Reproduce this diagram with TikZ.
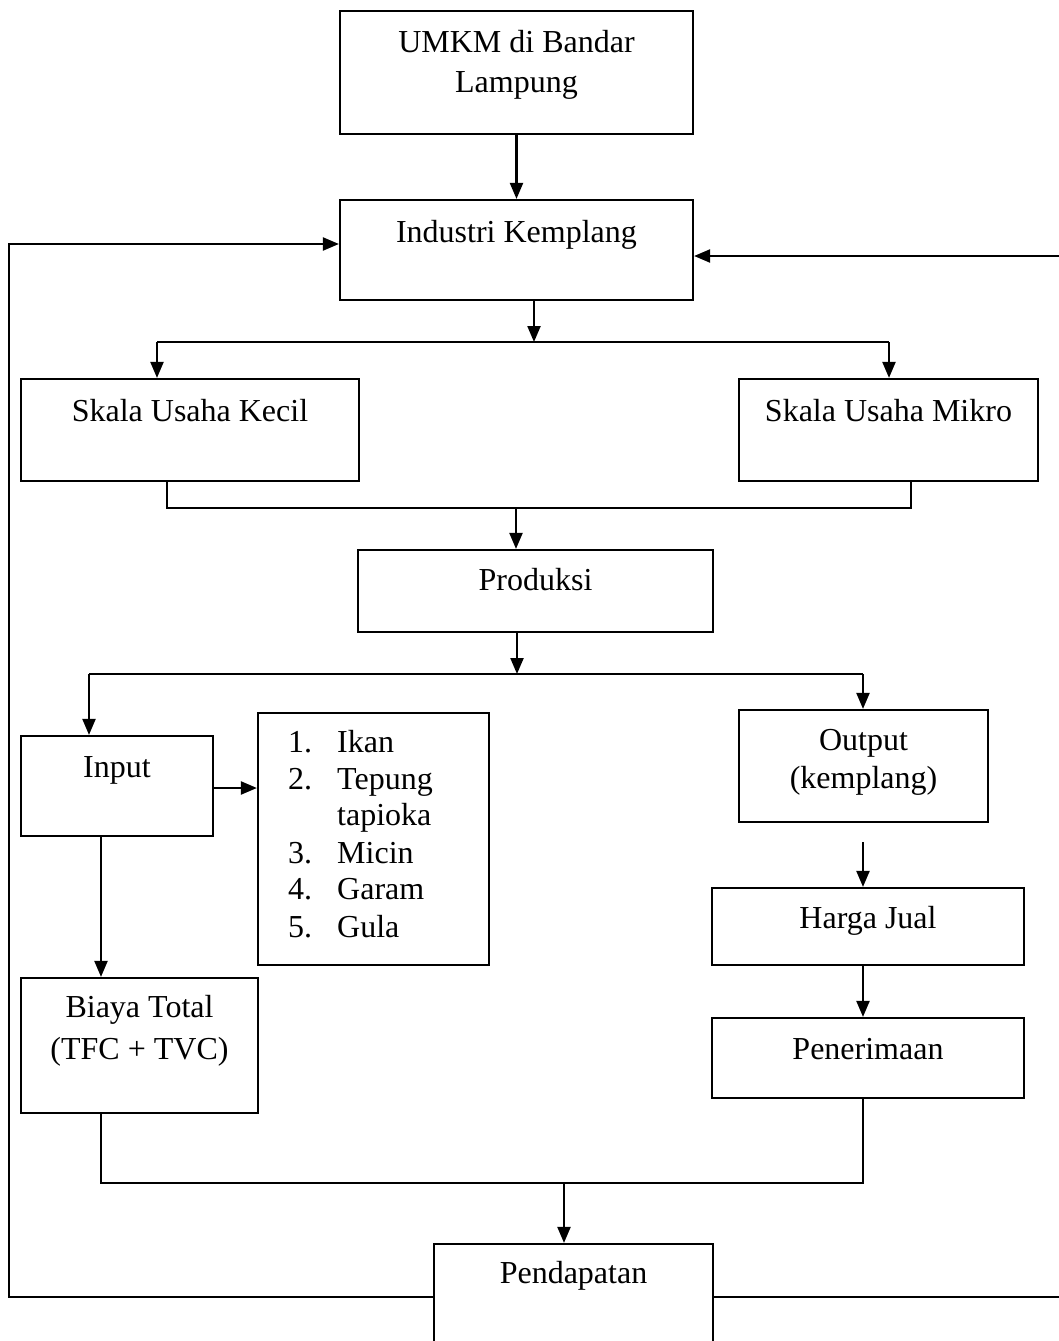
\documentclass[tikz,border=0pt]{standalone}
\usepackage{fontspec}
\setmainfont{Liberation Serif}
\usetikzlibrary{arrows.meta}
\begin{document}
\begin{tikzpicture}[x=1pt,y=-1pt,
  boxs/.style={draw, line width=2.2pt, inner sep=0pt, rectangle},
  lbl/.style={anchor=base, inner sep=0pt, font=\fontsize{32}{37}\selectfont},
  lbll/.style={anchor=base west, inner sep=0pt, font=\fontsize{32}{37}\selectfont},
  conn/.style={line width=2.2pt},
  arr/.style={line width=2.2pt, -{Triangle[length=16pt,width=13pt]}}]
\clip (0,0) rectangle (1059,1341);
\fill[white] (0,0) rectangle (1059,1341);
% boxes
\node[boxs, minimum width=353pt, minimum height=123pt] (umkm) at (516.5,72.5) {};
\node[boxs, minimum width=353pt, minimum height=100pt] (ind) at (516.5,250) {};
\node[boxs, minimum width=338pt, minimum height=102pt] (kecil) at (190,430) {};
\node[boxs, minimum width=299pt, minimum height=102pt] (mikro) at (888.5,430) {};
\node[boxs, minimum width=355pt, minimum height=82pt] (prod) at (535.5,591) {};
\node[boxs, minimum width=192pt, minimum height=100pt] (input) at (117,786) {};
\node[boxs, minimum width=231pt, minimum height=252pt] (list) at (373.5,839) {};
\node[boxs, minimum width=237pt, minimum height=135pt] (biaya) at (139.5,1045.5) {};
\node[boxs, minimum width=249pt, minimum height=112pt] (output) at (863.5,766) {};
\node[boxs, minimum width=312pt, minimum height=77pt] (harga) at (868,926.5) {};
\node[boxs, minimum width=312pt, minimum height=80pt] (pener) at (868,1058) {};
\node[boxs, minimum width=279pt, minimum height=116pt] (pend) at (573.5,1302) {};
% texts
\node[lbl] (t1a) at (516.5,52) {UMKM di Bandar};
\node[lbl] (t1b) at (516.5,92) {Lampung};
\node[lbl] (t2) at (516.5,242) {Industri Kemplang};
\node[lbl] (t3) at (190,421) {Skala Usaha Kecil};
\node[lbl] (t4) at (888.5,421) {Skala Usaha Mikro};
\node[lbl] (t5) at (535.5,590) {Produksi};
\node[lbl] (t6) at (117,777) {Input};
\node[lbl] (t7a) at (863.5,750) {Output};
\node[lbl] (t7b) at (863.5,788) {(kemplang)};
\node[lbl] (t8) at (868,928) {Harga Jual};
\node[lbl] (t9) at (868,1059) {Penerimaan};
\node[lbl] (t10a) at (139.5,1017) {Biaya Total};
\node[lbl] (t10b) at (139.5,1059) {(TFC + TVC)};
\node[lbl] (t11) at (573.5,1283) {Pendapatan};
\node[lbll] (n1) at (288,752) {1.};
\node[lbll] (n2) at (288,789) {2.};
\node[lbll] (n3) at (288,863) {3.};
\node[lbll] (n4) at (288,899) {4.};
\node[lbll] (n5) at (288,937) {5.};
\node[lbll] (i1) at (337,752) {Ikan};
\node[lbll] (i2) at (337,789) {Tepung};
\node[lbll] (i2b) at (337,825) {tapioka};
\node[lbll] (i3) at (337,863) {Micin};
\node[lbll] (i4) at (337,899) {Garam};
\node[lbll] (i5) at (337,937) {Gula};
% coordinates
\coordinate (s1) at (534,342);
\coordinate (s1l) at (157,342);
\coordinate (s1r) at (889,342);
\coordinate (b1l) at (167,508);
\coordinate (b1r) at (911,508);
\coordinate (b1c) at (516,508);
\coordinate (s2) at (517,674);
\coordinate (s2l) at (89,674);
\coordinate (s2r) at (863,674);
\coordinate (ia) at (213,788);
\coordinate (ib) at (101,900);
\coordinate (oh) at (863,842);
\coordinate (b2l) at (101,1183);
\coordinate (b2r) at (863,1183);
\coordinate (b2c) at (564,1183);
\coordinate (fl) at (9,1297);
\coordinate (flt) at (9,244);
\coordinate (fr) at (1063,1297);
\coordinate (frt) at (1063,256);
% connectors
\draw[arr] (umkm.south -| t1a) -- (ind.north -| t1a);
\draw[arr] (ind.south -| s1) -- (s1);
\draw[conn] (s1l) -- (s1r);
\draw[arr] (s1l) -- (s1l |- kecil.north);
\draw[arr] (s1r) -- (s1r |- mikro.north);
\draw[conn] (b1l |- kecil.south) -- (b1l) -- (b1r) -- (b1r |- mikro.south);
\draw[arr] (b1c) -- (b1c |- prod.north);
\draw[arr] (prod.south -| s2) -- (s2);
\draw[conn] (s2l) -- (s2r);
\draw[arr] (s2l) -- (s2l |- input.north);
\draw[arr] (s2r) -- (s2r |- output.north);
\draw[arr] (input.east |- ia) -- (list.west |- ia);
\draw[arr] (input.south -| ib) -- (biaya.north -| ib);
\draw[arr] (oh) -- (oh |- harga.north);
\draw[arr] (harga.south -| oh) -- (pener.north -| oh);
\draw[conn] (b2l |- biaya.south) -- (b2l) -- (b2r) -- (b2r |- pener.south);
\draw[arr] (b2c) -- (b2c |- pend.north);
\draw[arr] (pend.west |- fl) -- (fl) -- (flt) -- (flt -| ind.west);
\draw[arr] (pend.east |- fr) -- (fr) -- (frt) -- (frt -| ind.east);
\end{tikzpicture}
\end{document}
